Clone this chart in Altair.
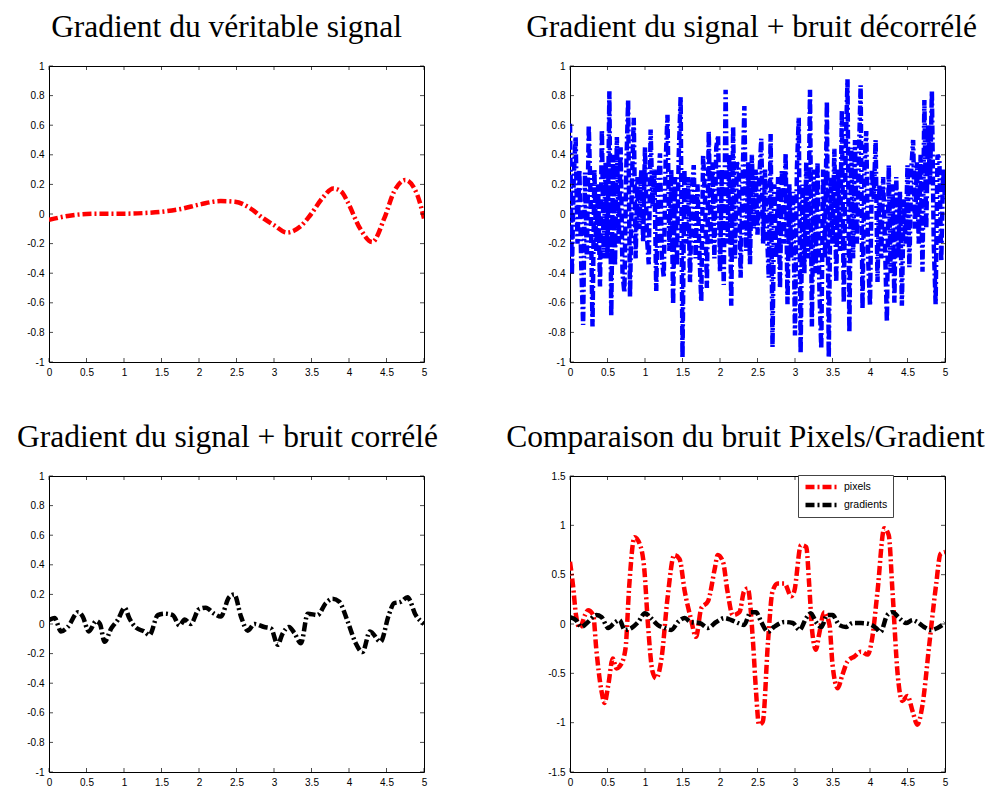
import altair as alt
import pandas as pd

# ---------------- data ----------------
# Panel 1 : true signal gradient
p1_x = [0.0, 0.25, 0.5, 0.75, 1.0, 1.25, 1.5, 1.76, 2.03, 2.29, 2.48, 2.68, 2.86, 3.0, 3.17, 3.35,
        3.48, 3.65, 3.79, 3.9, 3.98, 4.15, 4.31, 4.47, 4.6, 4.75, 4.91, 5.0]
p1_y = [-0.04, -0.013, 0.0, 0.002, 0.002, 0.006, 0.015, 0.034, 0.067, 0.087, 0.083, 0.04, -0.03, -0.075,
        -0.125, -0.085, -0.01, 0.11, 0.173, 0.15, 0.083, -0.1, -0.19, -0.03, 0.15, 0.23, 0.13, -0.03]

# Panel 2 : signal gradient + uncorrelated noise (step 0.025 from 0 to 5)
p2_step = 0.025
p2_y = [
    0.61, -0.41, 0.25, 0.52, -0.2, 0.3, -0.35, -0.75, 0.28, -0.3,
    0.6, 0.1, -0.76, 0.3, -0.25, 0.2, -0.49, 0.57, -0.3, 0.35,
    -0.3, 0.83, -0.69, 0.4, -0.35, 0.52, -0.2, 0.45, -0.4, -0.53,
    0.3, 0.77, -0.56, 0.2, 0.65, -0.3, 0.25, -0.1, 0.3, -0.19,
    0.45, -0.15, -0.34, 0.57, 0.05, 0.3, -0.52, 0.2, 0.41, -0.3,
    -0.43, 0.35, 0.67, -0.25, 0.3, -0.61, 0.25, -0.35, 0.4, 0.79,
    -0.97, 0.3, -0.2, 0.25, -0.46, 0.15, 0.33, -0.3, 0.2, -0.25,
    -0.59, 0.4, 0.1, -0.5, 0.56, -0.2, 0.35, -0.3, 0.45, 0.53,
    -0.39, 0.3, -0.48, 0.84, -0.2, 0.4, -0.62, 0.59, -0.3, 0.35,
    0.3, -0.43, 0.2, 0.73, -0.25, 0.35, -0.34, 0.4, -0.1, 0.3,
    -0.14, 0.25, 0.51, -0.2, 0.3, -0.1, -0.43, 0.54, -0.9, 0.2,
    -0.3, 0.25, -0.5, 0.3, -0.2, 0.41, -0.61, 0.2, -0.3, 0.15,
    -0.82, 0.3, 0.65, -0.94, 0.2, -0.4, 0.35, -0.3, 0.84, -0.76,
    0.3, -0.4, 0.35, -0.5, -0.91, 0.3, -0.3, 0.76, -0.97, 0.25,
    -0.2, 0.44, -0.46, 0.3, -0.25, 0.7, -0.6, 0.4, 0.91, -0.8,
    0.45, -0.3, 0.5, -0.2, 0.35, 0.87, -0.64, 0.3, 0.56, -0.3,
    -0.62, 0.3, 0.1, 0.5, -0.46, 0.2, -0.3, 0.25, -0.2, -0.73,
    0.33, -0.4, 0.2, -0.6, 0.25, -0.3, 0.15, -0.62, 0.1, -0.2,
    0.33, -0.36, 0.3, 0.5, -0.1, 0.35, -0.2, 0.4, -0.39, 0.77,
    -0.1, 0.6, 0.2, 0.83, -0.2, -0.61, 0.4, 0.37, -0.32, 0.3, 0.1,
]
p2_x = [round(i * p2_step, 4) for i in range(len(p2_y))]

# Panel 3 : signal gradient + correlated noise
p3_x = [0.0, 0.075, 0.16, 0.25, 0.39, 0.45, 0.53, 0.63, 0.68, 0.74, 0.83, 0.92, 1.01, 1.07, 1.16, 1.27,
        1.34, 1.45, 1.54, 1.65, 1.74, 1.81, 1.89, 2.0, 2.09, 2.2, 2.29, 2.4, 2.47, 2.56, 2.65, 2.74,
        2.87, 2.96, 3.05, 3.11, 3.2, 3.27, 3.36, 3.45, 3.58, 3.69, 3.78, 3.87, 3.98, 4.09, 4.18, 4.28,
        4.42, 4.53, 4.6, 4.69, 4.78, 4.89, 5.0]
p3_y = [0.027, 0.04, -0.05, -0.02, 0.08, 0.05, -0.05, 0.02, 0.0, -0.12, -0.03, 0.03, 0.11, 0.04, -0.025,
        -0.05, -0.075, 0.06, 0.07, 0.06, -0.01, 0.03, 0.0, 0.1, 0.11, 0.07, 0.05, 0.18, 0.2, 0.05, -0.045,
        0.0, -0.02, -0.03, -0.14, -0.07, -0.02, -0.06, -0.13, 0.07, 0.06, 0.14, 0.17, 0.15, 0.02, -0.13,
        -0.19, -0.05, -0.12, 0.06, 0.14, 0.15, 0.18, 0.06, 0.0]

# Panel 4 : pixel noise vs gradient noise
p4_pix_x = [0.0, 0.04, 0.08, 0.13, 0.2, 0.24, 0.31, 0.35, 0.42, 0.46, 0.51, 0.57, 0.62, 0.68, 0.74, 0.79,
            0.86, 0.93, 0.99, 1.04, 1.1, 1.15, 1.22, 1.3, 1.39, 1.46, 1.53, 1.61, 1.68, 1.75, 1.84, 1.93,
            1.97, 2.04, 2.1, 2.17, 2.26, 2.32, 2.37, 2.44, 2.48, 2.52, 2.57, 2.64, 2.7, 2.77, 2.86, 2.95,
            2.99, 3.08, 3.15, 3.19, 3.23, 3.28, 3.32, 3.39, 3.46, 3.5, 3.57, 3.63, 3.7, 3.79, 3.88, 3.97,
            4.03, 4.1, 4.19, 4.25, 4.3, 4.37, 4.43, 4.5, 4.57, 4.63, 4.7, 4.79, 4.88, 4.94, 5.0]
p4_pix_y = [0.63, 0.39, 0.09, -0.04, 0.09, 0.14, 0.09, -0.25, -0.68, -0.8, -0.62, -0.35, -0.45, -0.41, -0.25,
            0.39, 0.88, 0.81, 0.56, -0.01, -0.48, -0.55, -0.35, 0.26, 0.7, 0.66, 0.33, 0.06, -0.13, 0.16,
            0.23, 0.56, 0.7, 0.63, 0.33, 0.09, 0.12, 0.33, 0.36, -0.18, -0.68, -1.02, -0.99, -0.18, 0.33,
            0.41, 0.41, 0.28, 0.33, 0.8, 0.78, 0.39, -0.08, -0.26, -0.11, 0.12, -0.01, -0.41, -0.65, -0.52,
            -0.38, -0.33, -0.28, -0.31, -0.14, 0.33, 0.97, 0.9, 0.33, -0.52, -0.78, -0.73, -0.89, -1.02,
            -0.82, -0.21, 0.39, 0.71, 0.73]
p4_grad_x = [0.0, 0.08, 0.15, 0.24, 0.35, 0.42, 0.51, 0.59, 0.66, 0.73, 0.82, 0.91, 1.0, 1.08, 1.17, 1.26,
             1.35, 1.44, 1.53, 1.61, 1.73, 1.84, 1.95, 2.06, 2.15, 2.24, 2.32, 2.41, 2.48, 2.55, 2.64, 2.72,
             2.86, 2.97, 3.06, 3.15, 3.21, 3.28, 3.35, 3.43, 3.5, 3.59, 3.68, 3.77, 3.88, 3.99, 4.08, 4.14,
             4.23, 4.3, 4.39, 4.48, 4.57, 4.63, 4.72, 4.81, 4.9, 5.0]
p4_grad_y = [0.07, 0.04, -0.03, 0.02, 0.09, 0.07, -0.04, 0.01, 0.04, -0.06, -0.04, 0.02, 0.11, 0.06, -0.01,
             -0.04, -0.06, 0.02, 0.06, 0.02, 0.01, -0.04, 0.02, 0.06, 0.04, 0.01, -0.01, 0.12, 0.12, 0.02,
             -0.08, -0.03, 0.02, 0.01, -0.06, 0.06, 0.11, 0.02, -0.03, 0.09, 0.09, -0.01, -0.03, 0.01, 0.01,
             0.0, -0.04, -0.08, 0.09, 0.12, 0.06, 0.01, 0.04, 0.02, -0.03, -0.06, -0.04, 0.01]

titles = ["Gradient du véritable signal", "Gradient du signal + bruit décorrélé",
          "Gradient du signal + bruit corrélé", "Comparaison du bruit Pixels/Gradient"]
x_ticks = [0, 0.5, 1, 1.5, 2, 2.5, 3, 3.5, 4, 4.5, 5]
y_ticks_a = [-1, -0.8, -0.6, -0.4, -0.2, 0, 0.2, 0.4, 0.6, 0.8, 1]
y_ticks_b = [-1.5, -1, -0.5, 0, 0.5, 1, 1.5]
series_names = ["pixels", "gradients"]
series_colors = ["#ff0000", "#000000"]

# ---------------- styling ----------------
W, H = 375, 296
DASH = [9, 3, 2, 3]
LW = 4.5
LABEL_EXPR = "datum.value < 0 ? '-' + format(-datum.value, '~g') : format(datum.value, '~g')"
XD = [0, 5]
YA = [-1, 1]
YB = [-1.5, 1.5]
XPAD, YPAD = 5, 5


def ax(values, pad):
    return alt.Axis(values=values, title=None, domain=False, ticks=False, grid=False,
                    labelPadding=pad, labelExpr=LABEL_EXPR, labelFlush=False,
                    labelOverlap=False, labelBound=False, labelFont="Liberation Sans",
                    labelFontSize=10, labelColor="black")


def xs(dom):
    return alt.Scale(domain=dom, nice=False, zero=False)


def frame(yd, yticks):
    bx = pd.DataFrame({"x": x_ticks})
    by = pd.DataFrame({"y": yticks})
    t = dict(color="black", thickness=1, size=4)
    X = alt.X("x:Q", scale=xs(XD), axis=ax(x_ticks, XPAD))
    Y = alt.Y("y:Q", scale=xs(yd), axis=ax(yticks, YPAD))
    bottom = alt.Chart(bx).mark_tick(orient="vertical", yOffset=-2, **t).encode(
        x=X, y=alt.YDatum(yd[0], scale=xs(yd), axis=ax(yticks, YPAD)))
    top = alt.Chart(bx).mark_tick(orient="vertical", yOffset=2, **t).encode(
        x=X, y=alt.YDatum(yd[1], scale=xs(yd), axis=ax(yticks, YPAD)))
    left = alt.Chart(by).mark_tick(orient="horizontal", xOffset=2, **t).encode(
        y=Y, x=alt.XDatum(XD[0], scale=xs(XD), axis=ax(x_ticks, XPAD)))
    right = alt.Chart(by).mark_tick(orient="horizontal", xOffset=-2, **t).encode(
        y=Y, x=alt.XDatum(XD[1], scale=xs(XD), axis=ax(x_ticks, XPAD)))
    return [bottom, top, left, right]


def line(xv, yv, color, interp, yd, yticks, series=None, legend=None):
    df = pd.DataFrame({"x": xv, "y": yv})
    enc = dict(x=alt.X("x:Q", scale=xs(XD), axis=ax(x_ticks, XPAD)),
               y=alt.Y("y:Q", scale=xs(yd), axis=ax(yticks, YPAD)))
    if series is not None:
        df["serie"] = series
        enc["color"] = alt.Color("serie:N", scale=alt.Scale(domain=series_names, range=series_colors),
                                 legend=legend)
        mk = alt.Chart(df).mark_line(strokeWidth=LW, strokeDash=DASH, interpolate=interp, clip=True)
    else:
        mk = alt.Chart(df).mark_line(strokeWidth=LW, strokeDash=DASH, interpolate=interp, clip=True,
                                     color=color)
    return mk.encode(**enc)


def title(text, dx):
    return alt.TitleParams(text, font="Liberation Serif", fontSize=31.5, fontWeight="normal", color="black",
                           baseline="alphabetic", offset=-7, dx=dx, anchor="middle")


p1 = alt.layer(line(p1_x, p1_y, "#ff0000", "monotone", YA, y_ticks_a), *frame(YA, y_ticks_a)
               ).properties(width=W, height=H, title=title(titles[0], -10))
p2 = alt.layer(line(p2_x, p2_y, "#0000ff", "linear", YA, y_ticks_a), *frame(YA, y_ticks_a)
               ).properties(width=W, height=H, title=title(titles[1], -6))
p3 = alt.layer(line(p3_x, p3_y, "#000000", "monotone", YA, y_ticks_a), *frame(YA, y_ticks_a)
               ).properties(width=W, height=H, title=title(titles[2], -9))

leg = alt.Legend(orient="none", legendX=228, legendY=-1, title=None, symbolType="stroke",
                 symbolSize=1156, symbolStrokeWidth=LW, symbolDash=DASH, labelFont="Liberation Sans",
                 labelFontSize=10.5, labelColor="black", labelOffset=2, padding=5, rowPadding=4,
                 clipHeight=14, strokeColor="#444444", fillColor="white", cornerRadius=0)
red = line(p4_pix_x, p4_pix_y, None, "monotone", YB, y_ticks_b, series="pixels", legend=leg)
blk = line(p4_grad_x, p4_grad_y, None, "monotone", YB, y_ticks_b, series="gradients", legend=leg)
p4 = alt.layer(red, blk, *frame(YB, y_ticks_b)).properties(width=W, height=H,
                                                             title=title(titles[3], -12))

chart = alt.concat(p1, p2, p3, p4, columns=2, spacing={"row": 114, "column": 146}, bounds="flush"
                   ).resolve_scale(color="independent").properties(
    padding={"left": 8, "top": 3, "right": 0, "bottom": 0}, background="white"
).configure_view(stroke="black", strokeWidth=1)

chart.save("out.html", embed_options={"renderer": "svg", "actions": False})
